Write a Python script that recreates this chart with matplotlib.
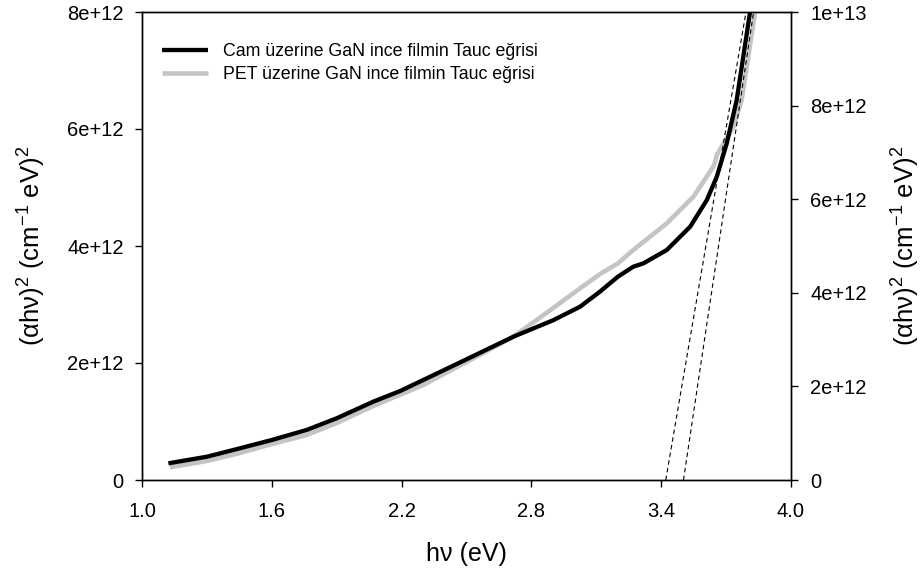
import matplotlib
matplotlib.use("Agg")
import matplotlib.pyplot as plt
from matplotlib.ticker import FixedLocator, FixedFormatter

plt.rcParams['font.family'] = ['Liberation Sans', 'DejaVu Sans']
plt.rcParams['mathtext.fontset'] = 'custom'
plt.rcParams['mathtext.rm'] = 'Liberation Sans'
plt.rcParams['mathtext.it'] = 'Liberation Sans:italic'

# Tauc curve of GaN thin film on glass
cam_ev = [1.122, 1.30, 1.453, 1.60, 1.761, 1.90, 2.069, 2.193, 2.300, 2.50,
          2.717, 2.90, 3.025, 3.117, 3.20, 3.271, 3.318, 3.426, 3.534, 3.611,
          3.657, 3.703, 3.749, 3.811]
cam_y = [2.85e11, 3.98e11, 5.42e11, 6.84e11, 8.55e11, 1.055e12, 1.339e12,
         1.521e12, 1.709e12, 2.063e12, 2.450e12, 2.73e12, 2.962e12, 3.22e12,
         3.476e12, 3.646e12, 3.704e12, 3.932e12, 4.330e12, 4.786e12, 5.185e12,
         5.755e12, 6.496e12, 8.005e12]

# Tauc curve of GaN thin film on PET
pet_ev = [1.129, 1.30, 1.453, 1.60, 1.761, 1.90, 2.069, 2.300, 2.50, 2.717,
          2.90, 3.025, 3.117, 3.20, 3.271, 3.426, 3.549, 3.641, 3.650, 3.657,
          3.703, 3.734, 3.772, 3.834, 3.845]
pet_y = [2.17e11, 3.25e11, 4.62e11, 6.15e11, 7.69e11, 9.74e11, 1.265e12,
         1.624e12, 2.017e12, 2.450e12, 2.937e12, 3.277e12, 3.52e12, 3.704e12,
         3.932e12, 4.388e12, 4.843e12, 5.356e12, 5.45e12, 5.556e12, 5.841e12,
         6.039e12, 6.496e12, 8.005e12, 8.2e12]

# Linear extrapolations of the absorption edges (band gap intercepts)
fit1_ev = [3.421, 3.792]
fit2_ev = [3.503, 3.827]
fit_y = [0.0, 8.0e12]

x_ticks = [1.0, 1.6, 2.2, 2.8, 3.4, 4.0]
x_labels = ["1.0", "1.6", "2.2", "2.8", "3.4", "4.0"]
yl_ticks = [0, 2e12, 4e12, 6e12, 8e12]
yl_labels = ["0", "2e+12", "4e+12", "6e+12", "8e+12"]
yr_ticks = [0, 2e12, 4e12, 6e12, 8e12, 1e13]
yr_labels = ["0", "2e+12", "4e+12", "6e+12", "8e+12", "1e+13"]

legend_labels = ["Cam üzerine GaN ince filmin Tauc eğrisi",
                 "PET üzerine GaN ince filmin Tauc eğrisi"]

fig = plt.figure(figsize=(9.24, 5.76), dpi=100)
ax = fig.add_axes([142 / 924, 1 - 480 / 576, (791 - 142) / 924, (480 - 12) / 576])

l_pet, = ax.plot(pet_ev, pet_y, color='#c4c4c4', lw=3.3, solid_capstyle='butt',
                 solid_joinstyle='round', zorder=2)
l_cam, = ax.plot(cam_ev, cam_y, color='black', lw=3.1, solid_capstyle='butt',
                 solid_joinstyle='round', zorder=3)
ax.plot(fit1_ev, fit_y, color='black', lw=0.8, ls=(0, (4, 3)), zorder=4)
ax.plot(fit2_ev, fit_y, color='black', lw=0.8, ls=(0, (4, 3)), zorder=4)

ax.set_xlim(1.0, 4.0)
ax.set_ylim(0, 8e12)
ax.xaxis.set_major_locator(FixedLocator(x_ticks))
ax.xaxis.set_major_formatter(FixedFormatter(x_labels))
ax.yaxis.set_major_locator(FixedLocator(yl_ticks))
ax.yaxis.set_major_formatter(FixedFormatter(yl_labels))
ax.tick_params(direction='out', length=4.8, width=1, labelsize=14.5)
ax.tick_params(axis='x', pad=11)
ax.tick_params(axis='y', pad=8.5)

ax2 = ax.twinx()
ax2.set_ylim(0, 1e13)
ax2.yaxis.set_major_locator(FixedLocator(yr_ticks))
ax2.yaxis.set_major_formatter(FixedFormatter(yr_labels))
ax2.tick_params(direction='out', length=4.8, width=1, labelsize=14.5, pad=9)

for a in (ax, ax2):
    for s in a.spines.values():
        s.set_linewidth(1.0)

ylabel = '(αhν)$^2$ (cm$^{-1}$ eV)$^2$'
ax.set_xlabel('hν (eV)', fontsize=18, labelpad=15)
ax.set_ylabel(ylabel, fontsize=18.5, labelpad=14)
ax2.set_ylabel(ylabel, fontsize=18.5, labelpad=17)

ax.legend([l_cam, l_pet], legend_labels, loc='upper left',
          bbox_to_anchor=(0.02, 0.948), frameon=False, fontsize=12.8,
          handlelength=2.6, handletextpad=0.8, labelspacing=0.32,
          borderaxespad=0.0)

fig.savefig("out.png", dpi=100, facecolor='white')
